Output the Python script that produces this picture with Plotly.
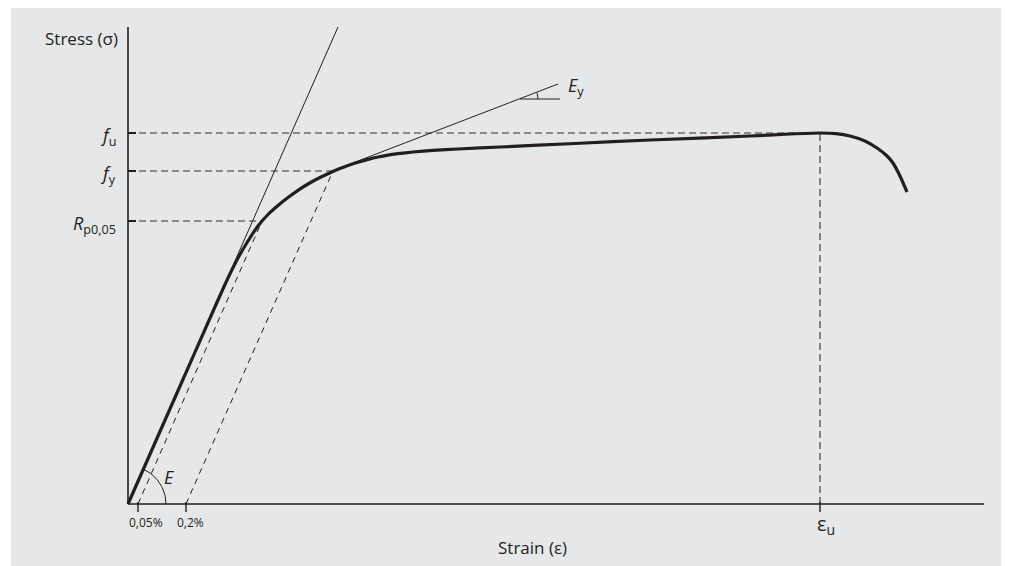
import numpy as np
import plotly.graph_objects as go

# schematic units: 1 unit = 10 px on both axes, origin at the axes corner
curve_strain = [0, 4.5, 9.0, 10.0, 11.0, 12.0, 13.0, 14.0, 15.0, 16.0, 17.0, 18.0, 19.0,
                20.0, 21.0, 22.0, 23.0, 24.0, 25.0, 26.0, 27.0, 28.5, 30.5, 33.0, 37.2,
                44.7, 52.2, 62.2, 66.2, 69.2, 70.8, 72.2, 73.7, 74.9, 75.8, 76.5, 77.2, 77.9]
curve_stress = [0, 10.2, 20.4, 22.6, 24.6, 26.3, 27.8, 28.95, 29.85, 30.65, 31.37, 32.0, 32.55,
                33.03, 33.47, 33.85, 34.18, 34.46, 34.7, 34.89, 35.03, 35.2, 35.37, 35.5, 35.7,
                36.05, 36.4, 36.8, 37.0, 37.1, 37.04, 36.8, 36.3, 35.6, 34.9, 34.1, 32.8, 31.2]

elastic_x = [0, 21.0]
elastic_y = [0, 47.7]

offset_005_x = [1.0, 13.4]
offset_005_y = [0, 28.3]
offset_02_x = [5.8, 20.5]
offset_02_y = [0, 33.3]

tangent_x = [21.7, 43.0]
tangent_y = [33.8, 42.0]
ey_base_x = [39.2, 43.2]
ey_base_y = [40.5, 40.5]

f_u = 37.1
f_y = 33.3
r_p005 = 28.3
eps_u = 69.2
strain_ticks = [1.0, 5.8, eps_u]
strain_tick_labels = ["0,05%", "0,2%", "ε<sub>u</sub>"]
stress_ticks = [f_u, f_y, r_p005]
stress_tick_labels = ["<i>f</i><sub>u</sub>", "<i>f</i><sub>y</sub>", "<i>R</i><sub>p0,05</sub>"]

x_axis_end = 85.6
y_axis_end = 47.7

INK = "#231f20"
DASH_INK = "#333333"
BG = "#e6e7e8"
FONT = "Open Sans"

fig = go.Figure()


def line(x, y, width=1.0, dash="solid", color=INK):
    fig.add_trace(go.Scatter(x=x, y=y, mode="lines", hoverinfo="skip",
                             line=dict(color=color, width=width, dash=dash)))


# axes
line([0, 0], [0, y_axis_end], 1.6)
line([0, x_axis_end], [0, 0], 1.6)

# guide lines
dash = "7px,4px"
line([0, eps_u], [f_u, f_u], 1.1, dash, DASH_INK)
line([0, offset_02_x[1]], [f_y, f_y], 1.1, dash, DASH_INK)
line([0, offset_005_x[1]], [r_p005, r_p005], 1.1, dash, DASH_INK)
line([eps_u, eps_u], [0, f_u], 1.1, dash, DASH_INK)
line(offset_005_x, offset_005_y, 1.0, "6px,5px")
line(offset_02_x, offset_02_y, 1.0, "6px,5px")

# tangents
line(elastic_x, elastic_y, 1.0)
line(tangent_x, tangent_y, 1.0)
line(ey_base_x, ey_base_y, 1.0)


# angle arcs
def arc(cx, cy, r, a1):
    t = np.linspace(0, a1, 40)
    line(cx + r * np.cos(t), cy + r * np.sin(t), 1.0)


arc(0, 0, 3.8, np.arctan2(elastic_y[1], elastic_x[1]))
arc(ey_base_x[0], ey_base_y[0], 1.8,
    np.arctan2(tangent_y[1] - tangent_y[0], tangent_x[1] - tangent_x[0]))

# ticks
for t in stress_ticks:
    line([0, 0.8], [t, t], 2.0)
for t in strain_ticks:
    line([t, t], [0.2, -0.8], 1.4)

# stress-strain curve
fig.add_trace(go.Scatter(x=curve_strain, y=curve_stress, mode="lines", hoverinfo="skip",
                         line=dict(color=INK, width=3.2, shape="spline", smoothing=0.6)))

ann = []
for t, lab in zip(stress_ticks, stress_tick_labels):
    ann.append(dict(x=-1.0, y=t - 0.3, text=lab, xanchor="right", yanchor="middle",
                    font=dict(size=18)))
ann.append(dict(x=1.8, y=-1.8, text=strain_tick_labels[0], font=dict(size=12)))
ann.append(dict(x=6.2, y=-1.8, text=strain_tick_labels[1], font=dict(size=12)))
ann.append(dict(x=eps_u + 0.6, y=-2.0, text=strain_tick_labels[2], font=dict(size=20)))
ann.append(dict(x=-0.8, y=46.6, text="Stress (σ)", xanchor="right", font=dict(size=17)))
ann.append(dict(x=40.4, y=-4.3, text="Strain (ε)", font=dict(size=17)))
ann.append(dict(x=4.1, y=2.7, text="<i>E</i>", font=dict(size=18)))
ann.append(dict(x=43.8, y=41.8, text="<i>E</i><sub>y</sub>", xanchor="left", font=dict(size=18)))
for a in ann:
    a.update(showarrow=False, xref="x", yref="y")
    a["font"].update(family=FONT, color=INK)

# page body adds an 8px margin, so the figure is 8px smaller and shifted by it
fig.update_layout(
    width=1001, height=558,
    margin=dict(l=0, r=0, t=0, b=0),
    paper_bgcolor="white", plot_bgcolor="white",
    showlegend=False,
    xaxis=dict(range=[-12.0, 88.1], visible=False, fixedrange=True),
    yaxis=dict(range=[-6.2, 49.6], visible=False, fixedrange=True),
    shapes=[dict(type="rect", xref="x", yref="y", x0=-11.7, x1=88.1, y0=-6.2, y1=49.6,
                 fillcolor=BG, line=dict(width=0), layer="below")],
    annotations=ann,
)

fig.write_html("out.html")
